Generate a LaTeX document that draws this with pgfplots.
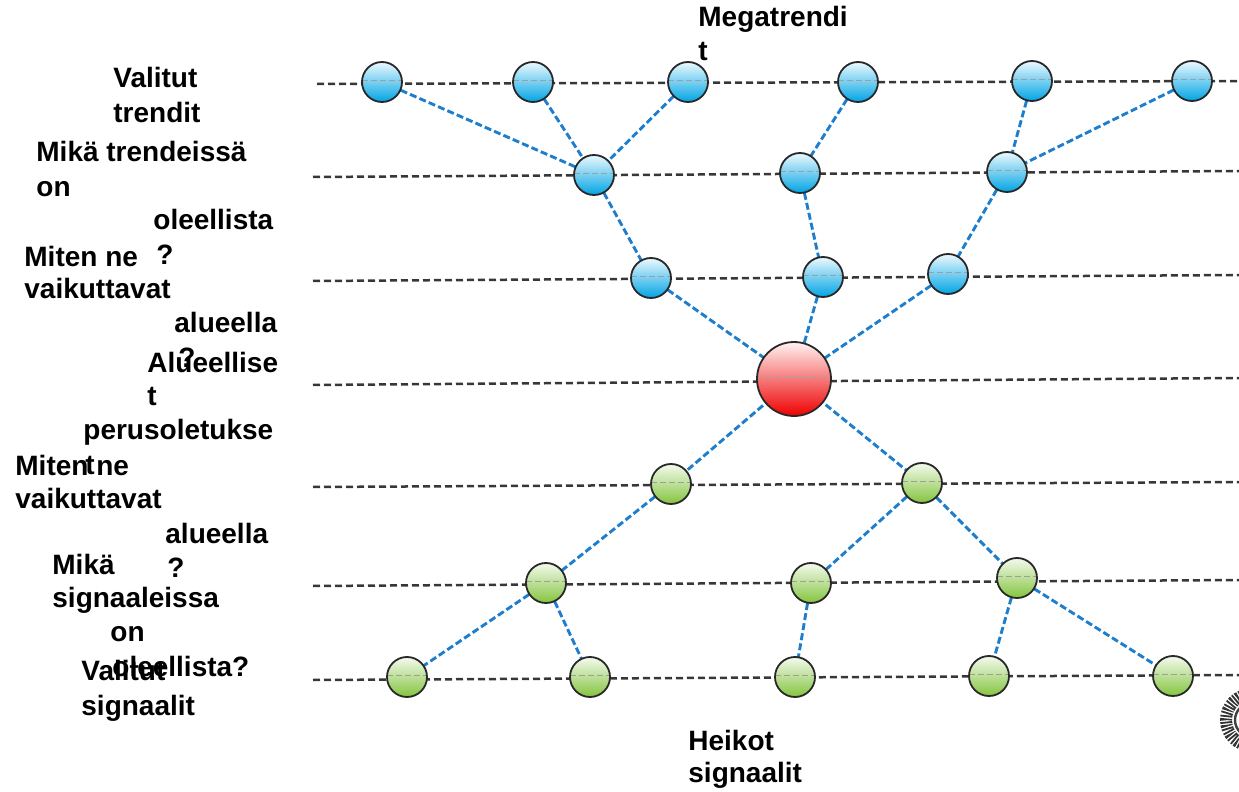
\documentclass[border=0pt]{standalone}
\usepackage{fontspec}
\setmainfont{Liberation Sans}
\usepackage{pgfplots}
\pgfplotsset{compat=1.18}

\definecolor{hline}{RGB}{55,55,55}
\definecolor{link}{RGB}{30,126,206}
\definecolor{ring}{RGB}{40,40,40}
\definecolor{bluetop}{RGB}{236,249,254}
\definecolor{bluebot}{RGB}{0,164,228}
\definecolor{greentop}{RGB}{244,250,238}
\definecolor{greenbot}{RGB}{132,196,62}
\definecolor{redtop}{RGB}{255,242,242}
\definecolor{redbot}{RGB}{238,0,0}

\tikzset{
  row/.style={hline, line width=1.25pt, dash pattern=on 3.5pt off 2pt},
  lnk/.style={link, line width=1.45pt, dash pattern=on 3.5pt off 1.6pt},
  ball/.style={circle, draw=ring, line width=0.9pt, inner sep=0pt, anchor=center,
    path picture={\draw[gray!75, line width=0.5pt, dash pattern=on 3pt off 1.5pt]
      ([yshift=0.6pt]path picture bounding box.west) -- ([yshift=0.6pt]path picture bounding box.east);}},
  lbl/.style={anchor=base west, inner sep=0pt, font=\fontsize{14}{17}\selectfont\bfseries},
}

\begin{document}
\begin{tikzpicture}
\begin{axis}[
  width=619.5pt, height=396pt, scale only axis,
  xmin=0, xmax=1239, ymin=0, ymax=792, y dir=reverse,
  hide axis, clip bounding box=upper bound, clip marker paths=true,
]
% frame of the picture (invisible)
\addplot[draw=none, mark=none] coordinates {(0,0) (1239,792)};

% horizontal levels
\addplot[row] coordinates {(317,84) (1239,81)};
\addplot[row] coordinates {(313,177) (1239,171)};
\addplot[row] coordinates {(313,281) (1239,275)};
\addplot[row] coordinates {(313,385) (1239,378)};
\addplot[row] coordinates {(313,487) (1239,482)};
\addplot[row] coordinates {(313,586) (1239,580)};
\addplot[row] coordinates {(313,680) (1239,675)};

% links: trends
\addplot[lnk] coordinates {(382,82) (594,175)};
\addplot[lnk] coordinates {(533,82) (594,175)};
\addplot[lnk] coordinates {(688,82) (594,175)};
\addplot[lnk] coordinates {(858,82) (800,173)};
\addplot[lnk] coordinates {(1032,81) (1007,172)};
\addplot[lnk] coordinates {(1192,81) (1007,172)};
\addplot[lnk] coordinates {(594,175) (651,278)};
\addplot[lnk] coordinates {(800,173) (823,277)};
\addplot[lnk] coordinates {(1007,172) (948,274)};
\addplot[lnk] coordinates {(651,278) (794,379)};
\addplot[lnk] coordinates {(823,277) (794,379)};
\addplot[lnk] coordinates {(948,274) (794,379)};
% links: signals
\addplot[lnk] coordinates {(794,379) (671,484)};
\addplot[lnk] coordinates {(794,379) (922,483)};
\addplot[lnk] coordinates {(671,484) (546,583)};
\addplot[lnk] coordinates {(922,483) (811,583)};
\addplot[lnk] coordinates {(922,483) (1017,578)};
\addplot[lnk] coordinates {(546,583) (407,677)};
\addplot[lnk] coordinates {(546,583) (590,677)};
\addplot[lnk] coordinates {(811,583) (795,677)};
\addplot[lnk] coordinates {(1017,578) (989,676)};
\addplot[lnk] coordinates {(1017,578) (1173,676)};

% trend nodes (blue)
\addplot[draw=none, mark=none, nodes near coords={},
  every node near coord/.style={ball, minimum size=20pt, top color=bluetop, bottom color=bluebot}]
  coordinates {(382,82) (533,82) (688,82) (858,82) (1032,81) (1192,81)
               (594,175) (800,173) (1007,172)
               (651,278) (823,277) (948,274)};
% regional assumptions (red)
\addplot[draw=none, mark=none, nodes near coords={},
  every node near coord/.style={ball, minimum size=37pt, top color=redtop, bottom color=redbot}]
  coordinates {(794,379)};
% signal nodes (green)
\addplot[draw=none, mark=none, nodes near coords={},
  every node near coord/.style={ball, minimum size=20pt, top color=greentop, bottom color=greenbot}]
  coordinates {(671,484) (922,483)
               (546,583) (811,583) (1017,578)
               (407,677) (590,677) (795,677) (989,676) (1173,676)};
% logo cut by the right edge
\addplot[only marks, mark=o, mark size=13pt,
  mark options={xshift=7pt, draw=black!80, line width=6pt, dash pattern=on 0.9pt off 0.7pt}]
  coordinates {(1238,720)};
\addplot[only marks, mark=o, mark size=8.5pt,
  mark options={xshift=7pt, draw=black!75, line width=1.2pt, solid}]
  coordinates {(1238,720)};

% labels
\node[lbl] at (axis cs:698,27) {Megatrendi};
\node[lbl] at (axis cs:698,61) {t};
\node[lbl] at (axis cs:688,750) {Heikot};
\node[lbl] at (axis cs:688,782) {signaalit};

\node[lbl] at (axis cs:113,88) {Valitut};
\node[lbl] at (axis cs:113,123) {trendit};
\node[lbl] at (axis cs:36,162) {Mikä trendeissä};
\node[lbl] at (axis cs:36,197) {on};
\node[lbl] at (axis cs:153,230) {oleellista};
\node[lbl] at (axis cs:156,264) {?};
\node[lbl] at (axis cs:24,267) {Miten ne};
\node[lbl] at (axis cs:24,299) {vaikuttavat};
\node[lbl] at (axis cs:174,333) {alueella};
\node[lbl] at (axis cs:178,367) {?};
\node[lbl] at (axis cs:147,372) {Alueellise};
\node[lbl] at (axis cs:147,406) {t};
\node[lbl] at (axis cs:83,439) {perusoletukse};
\node[lbl] at (axis cs:85,474) {t};
\node[lbl] at (axis cs:15,475) {Miten ne};
\node[lbl] at (axis cs:15,509) {vaikuttavat};
\node[lbl] at (axis cs:165,543) {alueella};
\node[lbl] at (axis cs:167,577) {?};
\node[lbl] at (axis cs:52,574) {Mikä};
\node[lbl] at (axis cs:52,607) {signaaleissa};
\node[lbl] at (axis cs:110,641) {on};
\node[lbl] at (axis cs:112,676) {oleellista?};
\node[lbl] at (axis cs:81,680) {Valitut};
\node[lbl] at (axis cs:81,715) {signaalit};
\end{axis}
\end{tikzpicture}
\end{document}
